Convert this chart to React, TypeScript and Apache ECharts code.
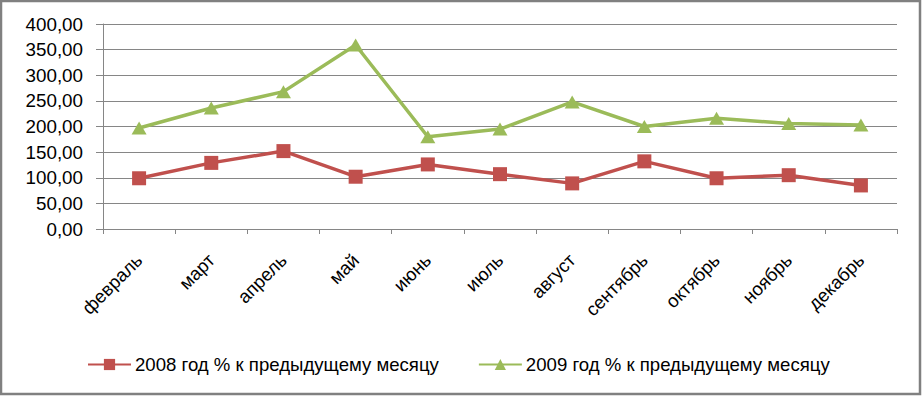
import React, { useEffect, useRef } from "react";
import * as echarts from "echarts";

const categories = ["февраль", "март", "апрель", "май", "июнь", "июль", "август", "сентябрь", "октябрь", "ноябрь", "декабрь"];
const series2008 = [99, 129, 152, 102, 126, 107, 89, 132, 99, 105, 85];
const series2009 = [197, 236, 268, 359, 180, 195, 248, 200, 216, 206, 203];
const seriesNames = ["2008 год % к предыдущему месяцу", "2009 год % к предыдущему месяцу"];
const yTicks = { min: 0, max: 400, interval: 50 };

const FONT = "Liberation Sans";

export default function App() {
  const ref = useRef<HTMLDivElement>(null);
  useEffect(() => {
    if (!ref.current) return;
    const chart = echarts.init(ref.current, null, { renderer: "svg" });
    chart.setOption({
      animation: false,
      backgroundColor: "#ffffff",
      textStyle: { fontFamily: FONT },
      grid: { left: 103, right: 25, top: 24, bottom: 167, containLabel: false },
      graphic: [
        {
          type: "rect",
          shape: { x: 1, y: 1, width: 919, height: 393 },
          style: { fill: "none", stroke: "#808080", lineWidth: 2.5 },
          silent: true,
        },
      ],
      legend: {
        left: 87,
        top: 355,
        padding: 0,
        itemWidth: 43,
        itemHeight: 14,
        itemGap: 39,
        textStyle: { fontFamily: FONT, fontSize: 18.6, color: "#000", padding: [0, 0, 0, -1] },
        data: seriesNames,
      },
      xAxis: {
        type: "category",
        data: categories,
        boundaryGap: true,
        axisLine: { lineStyle: { color: "#868686", width: 1 } },
        axisTick: { show: true, alignWithLabel: false, length: 5, lineStyle: { color: "#868686" } },
        axisLabel: { rotate: 45, margin: 28, fontSize: 18.5, color: "#000", fontFamily: FONT, interval: 0 },
        splitLine: { show: false },
      },
      yAxis: {
        type: "value",
        min: yTicks.min,
        max: yTicks.max,
        interval: yTicks.interval,
        axisLine: { show: true, lineStyle: { color: "#868686", width: 1 } },
        axisTick: { show: true, length: 7, lineStyle: { color: "#868686" } },
        axisLabel: {
          margin: 20,
          fontSize: 18.8,
          color: "#000",
          fontFamily: FONT,
          formatter: (v: number) => v.toFixed(2).replace(".", ","),
        },
        splitLine: { show: true, lineStyle: { color: "#868686", width: 1 } },
      },
      series: [
        {
          name: seriesNames[0],
          type: "line",
          data: series2008,
          symbol: "rect",
          symbolSize: 14,
          lineStyle: { color: "#C0504D", width: 3.5 },
          itemStyle: { color: "#C0504D" },
          z: 3,
        },
        {
          name: seriesNames[1],
          type: "line",
          data: series2009,
          symbol: "triangle",
          symbolSize: [15, 13],
          lineStyle: { color: "#9BBB59", width: 3.5 },
          itemStyle: { color: "#9BBB59" },
          z: 3,
        },
      ],
    });
    return () => chart.dispose();
  }, []);
  return (
    <div
      ref={ref}
      style={{ position: "fixed", left: 0, top: 0, width: 922, height: 396 }}
    />
  );
}
